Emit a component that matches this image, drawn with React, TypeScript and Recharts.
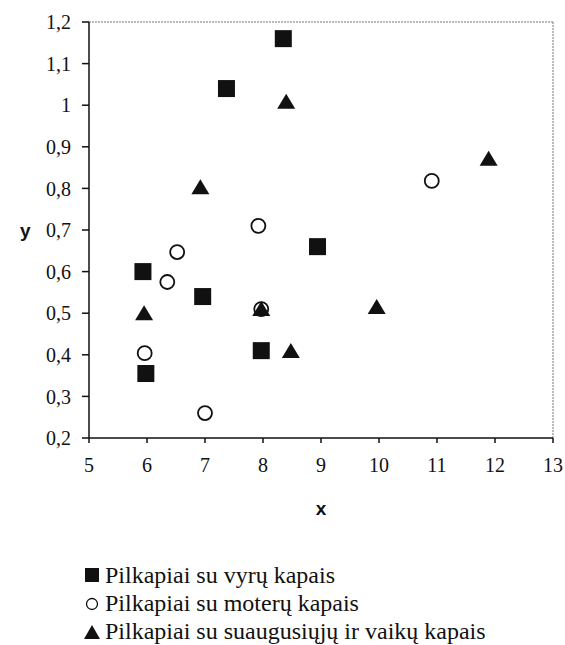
import { ScatterChart, Scatter, XAxis, YAxis, ReferenceLine, Legend } from 'recharts'

const xTicks = [5, 6, 7, 8, 9, 10, 11, 12, 13]
const yTicks = [0.2, 0.3, 0.4, 0.5, 0.6, 0.7, 0.8, 0.9, 1.0, 1.1, 1.2]

const menX = [7.37, 8.35, 8.94, 5.93, 6.96, 7.97, 5.98]
const menY = [1.04, 1.16, 0.66, 0.6, 0.54, 0.41, 0.355]
const womenX = [6.52, 6.35, 7.92, 10.91, 7.97, 5.96, 7.0]
const womenY = [0.647, 0.575, 0.71, 0.818, 0.51, 0.404, 0.26]
const mixedX = [8.4, 6.92, 11.89, 5.95, 7.97, 8.48, 9.96]
const mixedY = [1.008, 0.803, 0.871, 0.5, 0.51, 0.409, 0.515]

const names = [
  'Pilkapiai su vyrų kapais',
  'Pilkapiai su moterų kapais',
  'Pilkapiai su suaugusiųjų ir vaikų kapais',
]

const toPoints = (xs: number[], ys: number[]) => xs.map((x, i) => ({ x, y: ys[i] }))

const serif = '"Liberation Serif", "Times New Roman", serif'
const sans = '"Liberation Sans", Arial, sans-serif'
const ink = '#111'

const fmtY = (v: number) => String(Number(v.toFixed(1))).replace('.', ',')

const SquareDot = (props: any) => {
  const { cx, cy } = props
  return <rect x={cx - 8.5} y={cy - 8.5} width={17} height={17} fill={ink} />
}
const CircleDot = (props: any) => {
  const { cx, cy } = props
  return <circle cx={cx} cy={cy} r={7} fill="#fff" stroke={ink} strokeWidth={1.8} />
}
const TriangleDot = (props: any) => {
  const { cx, cy } = props
  return <polygon points={`${cx},${cy - 8} ${cx + 9},${cy + 7} ${cx - 9},${cy + 7}`} fill={ink} />
}

const legendIcon = (i: number) => {
  if (i === 0) return <rect x={1} y={2} width={14} height={14} fill={ink} />
  if (i === 1) return <circle cx={8} cy={10} r={5.5} fill="#fff" stroke={ink} strokeWidth={1.3} />
  return <polygon points="8,3 16,17 0,17" fill={ink} />
}

const renderLegend = () => (
  <div style={{ fontFamily: serif, fontSize: 24, color: ink }}>
    {names.map((n, i) => (
      <div key={n} style={{ display: 'flex', alignItems: 'center', height: 28, whiteSpace: 'nowrap' }}>
        <svg width={17} height={18} style={{ marginRight: 4 }}>
          {legendIcon(i)}
        </svg>
        <span>{n}</span>
      </div>
    ))}
  </div>
)

export default function App() {
  return (
    <div style={{ position: 'absolute', left: 0, top: 0, width: 565, height: 645, background: '#fff' }}>
      <ScatterChart width={565} height={645} margin={{ top: 22, right: 12, bottom: 117, left: 0 }}>
        <XAxis
          type="number"
          dataKey="x"
          domain={[5, 13]}
          ticks={xTicks}
          interval={0}
          height={90}
          tickSize={5}
          tickMargin={15}
          stroke={ink}
          strokeWidth={1.5}
          tick={{ fill: ink, fontFamily: serif, fontSize: 20 }}
          label={{ value: 'x', position: 'insideBottom', offset: 13, fill: ink, fontFamily: sans, fontWeight: 'bold', fontSize: 19 }}
        />
        <YAxis
          type="number"
          dataKey="y"
          domain={[0.2, 1.2]}
          ticks={yTicks}
          interval={0}
          width={89}
          tickSize={7}
          tickMargin={11}
          stroke={ink}
          strokeWidth={1.5}
          tickFormatter={fmtY}
          tick={{ fill: ink, fontFamily: serif, fontSize: 20 }}
          label={{ value: 'y', position: 'insideLeft', offset: 20, angle: 0, fill: ink, fontFamily: sans, fontWeight: 'bold', fontSize: 19 }}
        />
        <ReferenceLine y={1.2} stroke="#777" strokeDasharray="2 1" />
        <ReferenceLine x={13} stroke="#777" strokeDasharray="2 1" />
        <Scatter name={names[0]} data={toPoints(menX, menY)} shape={SquareDot} isAnimationActive={false} />
        <Scatter name={names[1]} data={toPoints(womenX, womenY)} shape={CircleDot} isAnimationActive={false} />
        <Scatter name={names[2]} data={toPoints(mixedX, mixedY)} shape={TriangleDot} isAnimationActive={false} />
        <Legend
          layout="vertical"
          align="center"
          verticalAlign="middle"
          content={renderLegend}
          wrapperStyle={{ top: 561, left: 84, width: 'auto' }}
        />
      </ScatterChart>
    </div>
  )
}
